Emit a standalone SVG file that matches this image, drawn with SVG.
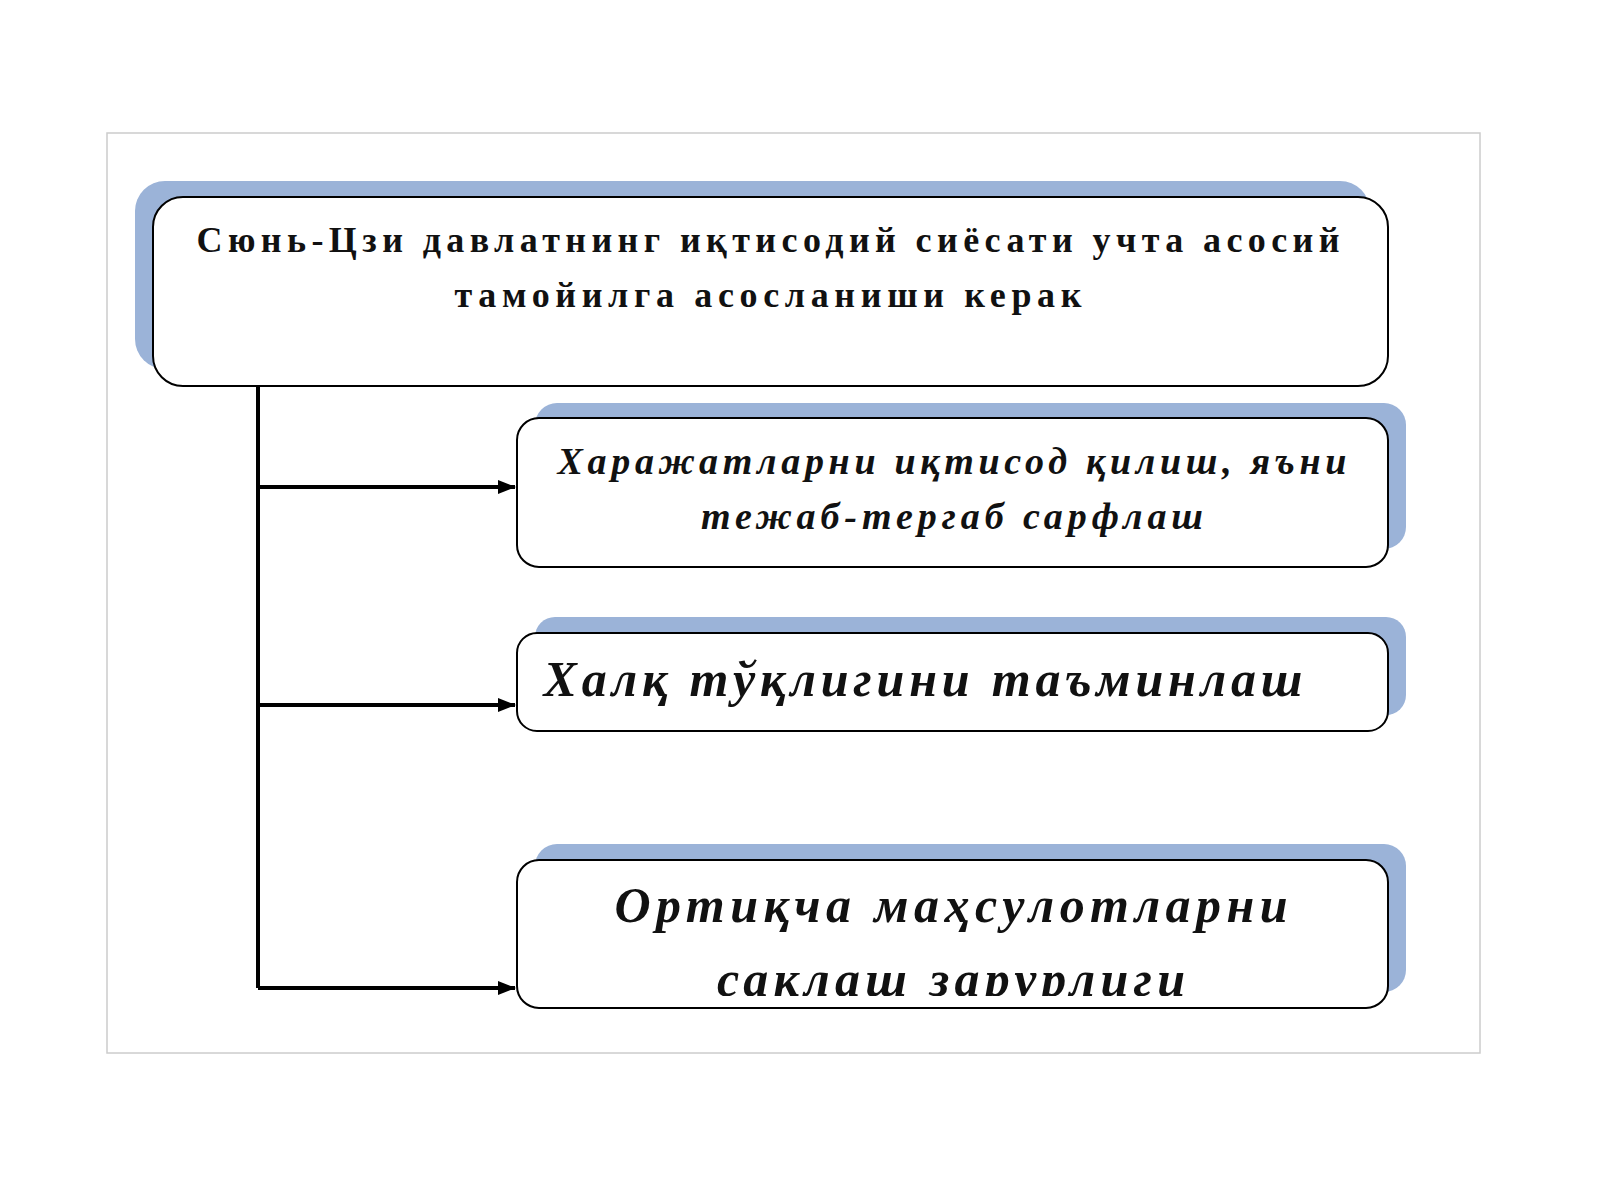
<svg xmlns="http://www.w3.org/2000/svg" width="1600" height="1200" viewBox="0 0 1600 1200">
<style>
.box{fill:#fff;stroke:#000;stroke-width:2}
.sh{fill:#9bb3d8}
.t{font-family:"Liberation Serif","DejaVu Serif",serif;font-weight:bold;fill:#111;text-anchor:middle}
.i{font-style:italic}
.c{stroke:#000;stroke-width:4;fill:none}
</style>
<defs>
<marker id="ah" markerWidth="18" markerHeight="14" refX="17" refY="7" orient="auto" markerUnits="userSpaceOnUse"><path d="M0,0 L18,7 L0,14z" fill="#000"/></marker>
<clipPath id="cl"><rect x="517" y="860" width="871" height="136"/></clipPath>
</defs>
<rect width="1600" height="1200" fill="#fff"/>
<rect x="107" y="133" width="1373" height="920" fill="#fff" stroke="#ccc" stroke-width="1.5"/>
<g id="n1">
<rect class="sh" x="135" y="181" width="1235" height="188" rx="30"/>
<rect class="box" x="153" y="197" width="1235" height="189" rx="30"/>
<text class="t" x="768" y="252" font-size="36" textLength="1143" lengthAdjust="spacing">Сюнь-Цзи давлатнинг иқтисодий сиёсати учта асосий</text>
<text class="t" x="768" y="307" font-size="36" textLength="627" lengthAdjust="spacing">тамойилга асосланиши керак</text>
</g>
<g id="n2">
<rect class="sh" x="535" y="403" width="871" height="146" rx="22"/>
<rect class="box" x="517" y="418" width="871" height="149" rx="22"/>
<text class="t i" x="952" y="474" font-size="38" textLength="789" lengthAdjust="spacing">Харажатларни иқтисод қилиш, яъни</text>
<text class="t i" x="952" y="529" font-size="38" textLength="502" lengthAdjust="spacing">тежаб-тергаб сарфлаш</text>
</g>
<g id="n3">
<rect class="sh" x="535" y="617" width="871" height="98" rx="20"/>
<rect class="box" x="517" y="633" width="871" height="98" rx="20"/>
<text class="t i" x="923" y="696" font-size="50" textLength="759" lengthAdjust="spacing">Халқ тўқлигини таъминлаш</text>
</g>
<g id="n4">
<rect class="sh" x="535" y="844" width="871" height="148" rx="22"/>
<rect class="box" x="517" y="860" width="871" height="148" rx="22"/>
<g clip-path="url(#cl)">
<text class="t i" x="951" y="922" font-size="50" textLength="673" lengthAdjust="spacing">Ортиқча маҳсулотларни</text>
<text class="t i" x="951" y="996" font-size="50" textLength="468" lengthAdjust="spacing">сақлаш зарурлиги</text>
</g>
</g>
<g id="connectors">
<path class="c" d="M258,386 V988"/>
<path class="c" d="M258,487 H515" marker-end="url(#ah)"/>
<path class="c" d="M258,705 H515" marker-end="url(#ah)"/>
<path class="c" d="M258,988 H515" marker-end="url(#ah)"/>
</g>
</svg>
